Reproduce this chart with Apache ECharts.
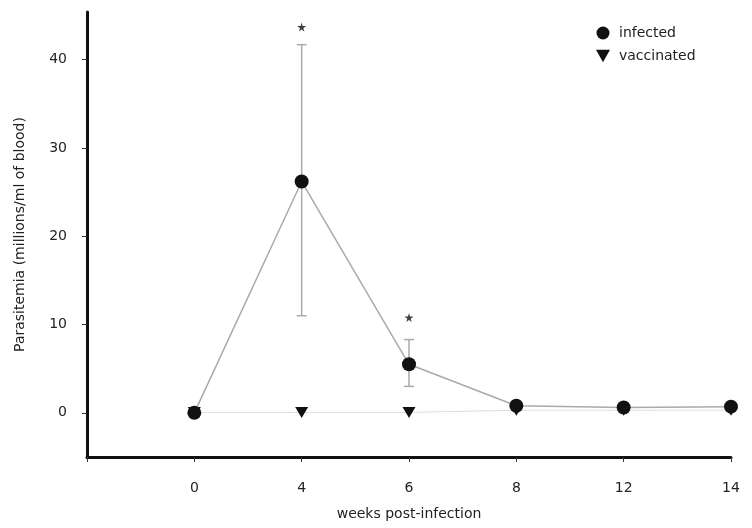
<!DOCTYPE html>
<html><head><meta charset="utf-8">
<script src="https://cdn.jsdelivr.net/npm/echarts@6/dist/echarts.min.js"></script>
<style>html,body{margin:0;padding:0;background:#fff}#c{width:752px;height:528px}</style>
</head><body><div id="c"></div>
<script>
const weeks = ['0', '4', '6', '8', '12', '14'];
const infected = [0, 26.2, 5.5, 0.8, 0.6, 0.7];
const infectedLow = [null, 11.0, 3.0, null, null, null];
const infectedHigh = [null, 41.7, 8.3, null, null, null];
const vaccinated = [0.05, 0.05, 0.05, 0.3, 0.3, 0.3];
const starWeeks = ['4', '6'];
const starValues = [43.7, 10.8];
const yTicks = [0, 10, 20, 30, 40];

const cats = [''].concat(weeks);
const pad = a => [null].concat(a);
const font = 'DejaVu Sans';

const errData = [];
weeks.forEach((w, i) => {
  if (infectedLow[i] != null) errData.push([w, infectedLow[i], infectedHigh[i]]);
});

const chart = echarts.init(document.getElementById('c'), null, {renderer: 'canvas'});
chart.setOption({
  animation: false,
  backgroundColor: '#fff',
  grid: {left: 87, right: 21, top: 12, bottom: 71},
  legend: {
    left: 591, top: 21, orient: 'vertical', itemGap: 9,
    itemWidth: 14, itemHeight: 13,
    textStyle: {fontFamily: font, fontSize: 14, color: '#222', padding: [0, 0, 0, 4]},
    data: [
      {name: 'infected', icon: 'circle'},
      {name: 'vaccinated', icon: 'path://M0,0 L10,0 L5,9 Z'}
    ]
  },
  xAxis: {
    type: 'category', data: cats, boundaryGap: false,
    name: 'weeks post-infection', nameLocation: 'middle', nameGap: 50,
    nameTextStyle: {fontFamily: font, fontSize: 14, color: '#222'},
    axisLine: {onZero: false, lineStyle: {color: '#111', width: 3}},
    axisTick: {show: true, length: 5, lineStyle: {color: '#333', width: 1}, alignWithLabel: true},
    axisLabel: {fontFamily: font, fontSize: 14, color: '#222', margin: 24},
    splitLine: {show: false}
  },
  yAxis: {
    type: 'value', min: -5, max: 45.4,
    name: 'Parasitemia (millions/ml of blood)', nameLocation: 'middle', nameGap: 60,
    nameTextStyle: {fontFamily: font, fontSize: 14, color: '#222'},
    axisLine: {show: true, lineStyle: {color: '#111', width: 3}},
    axisTick: {show: true, length: 5, customValues: yTicks, lineStyle: {color: '#333', width: 1}},
    axisLabel: {fontFamily: font, fontSize: 14, color: '#222', margin: 20, customValues: yTicks},
    splitLine: {show: false}
  },
  series: [
    {
      name: 'vaccinated', type: 'line', data: pad(vaccinated),
      symbol: 'path://M0,0 L10,0 L5,9 Z', symbolSize: [13, 11], z: 2,
      itemStyle: {color: '#111'},
      lineStyle: {color: '#bbb', width: 1, type: 'dotted'}
    },
    {
      name: 'infected', type: 'line', data: pad(infected),
      symbol: 'circle', symbolSize: 14, z: 3,
      itemStyle: {color: '#111'},
      lineStyle: {color: '#aaa', width: 1.5}
    },
    {
      name: 'err', type: 'custom', z: 1, data: errData,
      renderItem: function (params, api) {
        const lo = api.coord([api.value(0), api.value(1)]);
        const hi = api.coord([api.value(0), api.value(2)]);
        const w = 5;
        const st = {stroke: '#aaa', lineWidth: 1.5};
        return {type: 'group', children: [
          {type: 'line', shape: {x1: lo[0], y1: lo[1], x2: hi[0], y2: hi[1]}, style: st},
          {type: 'line', shape: {x1: lo[0]-w, y1: lo[1], x2: lo[0]+w, y2: lo[1]}, style: st},
          {type: 'line', shape: {x1: hi[0]-w, y1: hi[1], x2: hi[0]+w, y2: hi[1]}, style: st}
        ]};
      },
      encode: {x: 0, y: [1, 2]}
    },
    {
      name: 'stars', type: 'scatter', z: 4,
      data: starWeeks.map((w, i) => [w, starValues[i]]),
      symbol: 'path://M50,0 L61,35 L98,35 L68,57 L79,91 L50,70 L21,91 L32,57 L2,35 L39,35 Z',
      symbolSize: 9, itemStyle: {color: '#111'}
    }
  ]
});
</script></body></html>
